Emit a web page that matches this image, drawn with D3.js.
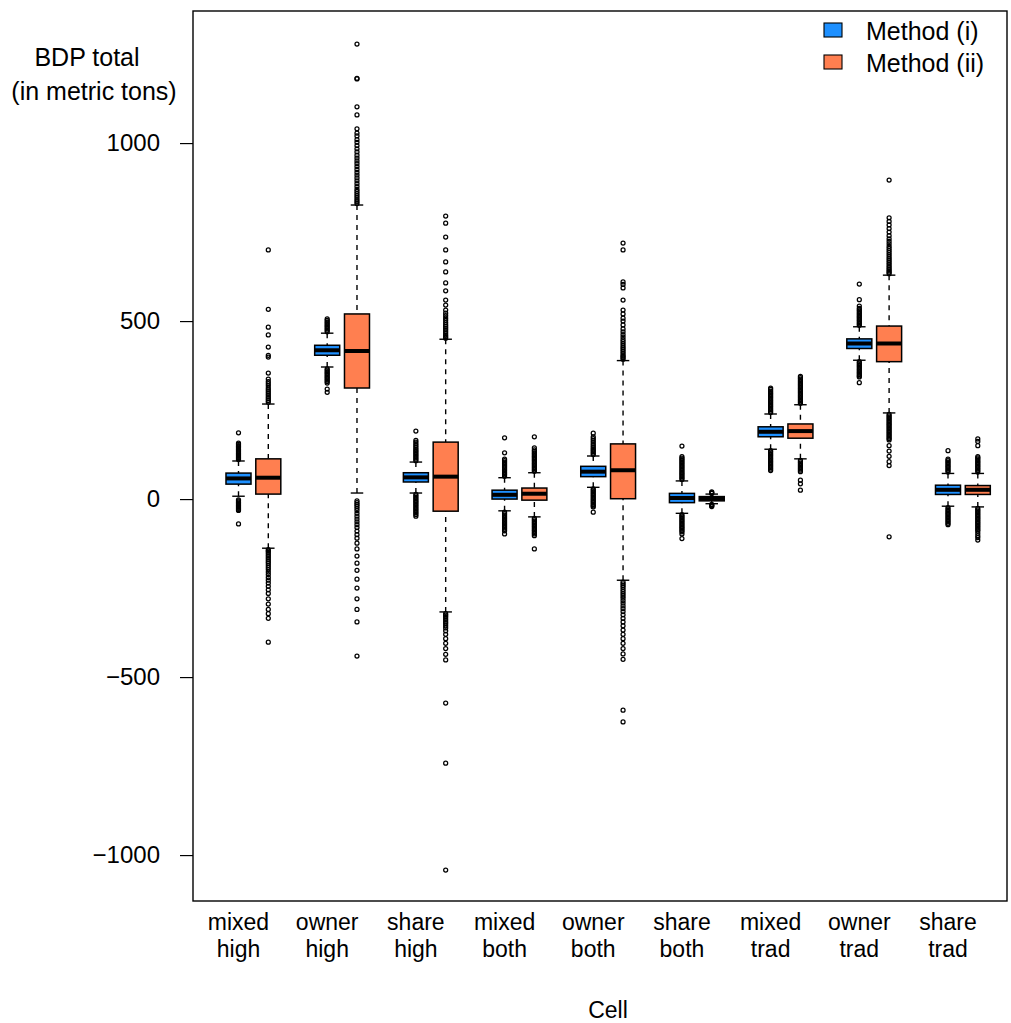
<!DOCTYPE html>
<html>
<head>
<meta charset="utf-8">
<script src="https://cdn.jsdelivr.net/npm/d3@7"></script>
<style>
  body { margin: 0; background: #fff; }
  svg text { font-family: "Liberation Sans", Arial, Helvetica, sans-serif; fill: #000; }
</style>
</head>
<body>
<svg id="chart" width="1011" height="1023"></svg>
<script>
// cell names (two lines each)
var cellType  = ["mixed", "owner", "share", "mixed", "owner", "share", "mixed", "owner", "share"];
var cellLevel = ["high", "high", "high", "both", "both", "both", "trad", "trad", "trad"];
var methods = ["Method (i)", "Method (ii)"];
var methodColors = ["#1E90FF", "#FF7F50"];
var yTicks = [-1000, -500, 0, 500, 1000];

// Method (i) box stats
var iQ1  = [42, 404, 48, 0, 63, -10, 175, 423, 13];
var iMed = [58, 418, 61, 12, 77, 3, 189, 437, 26];
var iQ3  = [73, 432, 74, 25, 92, 16, 203, 450, 39];
var iLo  = [8, 371, 17, -33, 33, -40, 140, 390, -20];
var iHi  = [107, 466, 104, 60, 121, 51, 239, 484, 72];
var iOut = [
  [111,114,117,120,123,126,129,132,135,138,141,144,147,150,154,157,186,
   -2,-5,-8,-11,-14,-17,-20,-23,-26,-29,-32,-70],
  [470,474,478,482,486,490,494,498,502,506,
   366,362,358,354,350,346,342,338,334,330,326,309,300],
  [108,112,116,120,124,128,132,136,140,145,150,155,160,165,191,
   13,9,5,1,-3,-7,-11,-15,-19,-23,-27,-31,-35,-39,-43,-48],
  [64,68,72,76,80,84,88,92,96,100,104,108,112,130,172,
   -37,-41,-45,-49,-53,-57,-61,-65,-69,-73,-77,-81,-85,-89,-98],
  [125,129,133,137,141,145,150,155,160,165,170,175,185,
   29,25,21,17,13,9,5,1,-3,-7,-11,-15,-19,-22,-37],
  [55,59,63,67,71,75,79,83,87,91,95,99,103,107,111,115,119,149,
   -44,-48,-52,-56,-60,-64,-68,-72,-76,-80,-84,-88,-92,-98,-111],
  [243,247,251,255,259,263,267,271,275,279,283,287,291,295,299,303,308,312,
   136,132,128,124,120,116,112,108,104,100,96,92,88,84,80],
  [488,492,496,500,504,508,512,516,520,524,528,532,536,542,560,604,
   386,382,378,374,370,366,362,358,354,350,346,343,327],
  [76,80,84,88,92,96,100,104,108,112,136,
   -24,-28,-32,-36,-40,-44,-48,-52,-56,-60,-64,-68,-72]
];

// Method (ii) box stats
var iiQ1  = [14, 312, -34, -3, 1, -5, 171, 386, 13];
var iiMed = [60, 416, 63, 15, 81, 1, 191, 437, 26];
var iiQ3  = [113, 520, 160, 31, 155, 7, 211, 486, 38];
var iiLo  = [-138, 17, -317, -50, -228, -13, 113, 242, -22];
var iiHi  = [267, 826, 449, 74, 389, 14, 265, 629, 72];
var iiOut = [
  [272,277,282,287,292,297,302,307,312,318,324,330,337,354,399,404,427,461,483,533,700,
   -142,-146,-150,-155,-160,-165,-170,-175,-180,-186,-192,-198,-205,-212,-220,-228,-236,-245,-255,-265,-280,-295,-310,-322,-335,-402],
  [830,835,840,846,852,858,864,870,878,886,894,902,910,918,926,934,942,950,958,966,975,984,993,1002,1010,1020,1028,1040,1079,1102,1180,1182,1278,
   -5,-10,-15,-20,-26,-32,-40,-48,-56,-64,-72,-80,-90,-100,-110,-124,-140,-160,-180,-200,-225,-250,-280,-310,-345,-441],
  [452,456,460,465,470,475,480,485,490,496,502,508,515,522,531,545,559,585,607,638,666,700,736,775,795,
   -322,-326,-330,-335,-340,-345,-350,-356,-362,-370,-380,-392,-405,-420,-436,-452,-573,-742,-1042],
  [78,82,86,90,94,98,102,106,110,114,118,122,126,130,134,138,144,175,
   -54,-58,-62,-66,-70,-74,-78,-82,-86,-90,-94,-98,-103,-140],
  [393,397,401,405,410,415,420,425,430,436,442,448,455,462,470,478,489,500,508,520,531,559,593,603,610,700,719,
   -233,-238,-243,-248,-254,-260,-266,-272,-278,-285,-292,-300,-308,-316,-325,-335,-345,-356,-368,-380,-392,-405,-420,-435,-450,-593,-626],
  [16,18,20,-15,-17,-19,-21],
  [269,273,277,281,285,289,293,297,301,305,309,313,317,321,325,329,333,337,341,345,
   109,105,101,97,93,89,85,81,77,53,43,25],
  [633,637,641,645,650,655,660,665,670,675,680,686,692,698,704,710,717,724,731,740,750,760,770,780,790,896,
   238,234,230,226,222,218,214,210,206,202,198,194,190,186,182,178,174,170,166,150,135,120,105,94,-106],
  [76,80,84,88,92,96,100,104,108,112,116,119,150,162,169,
   -26,-30,-34,-38,-42,-46,-50,-54,-58,-62,-66,-70,-74,-78,-82,-86,-90,-96,-103,-108,-115]
];

var svg = d3.select("#chart");
var fontSize = 23;
var bigFont = 25;

var plotL = 193, plotR = 1007, plotT = 11, plotB = 901;

var y = d3.scaleLinear().domain([-1129, 1371]).range([plotB, plotT]);
var x = d3.scaleLinear().domain([1, 9]).range([238.5, 948]);
var offset = 0.336;   // method (ii) sits to the right of method (i)
var halfW = 0.141;    // half box width, in x units

function boxRows(q1, med, q3, lo, hi, out, m) {
  return cellType.map(function(c, i) {
    return {cell: i, m: m, q1: q1[i], med: med[i], q3: q3[i], lo: lo[i], hi: hi[i], out: out[i]};
  });
}
var boxes = boxRows(iQ1, iMed, iQ3, iLo, iHi, iOut, 0)
  .concat(boxRows(iiQ1, iiMed, iiQ3, iiLo, iiHi, iiOut, 1));

function cx(d) { return x(d.cell + 1 + d.m * offset); }
function bw() { return x(1 + halfW) - x(1 - halfW); }

var g = svg.append("g");

var bx = g.selectAll("g.box").data(boxes).enter().append("g").attr("class", "box");

// whiskers
bx.append("line")
  .attr("x1", cx).attr("x2", cx)
  .attr("y1", function(d) { return y(d.hi); })
  .attr("y2", function(d) { return y(d.q3); })
  .attr("stroke", "#000").attr("stroke-width", 1.4).attr("stroke-dasharray", "5,5");
bx.append("line")
  .attr("x1", cx).attr("x2", cx)
  .attr("y1", function(d) { return y(d.lo); })
  .attr("y2", function(d) { return y(d.q1); })
  .attr("stroke", "#000").attr("stroke-width", 1.4).attr("stroke-dasharray", "5,5");

// staples
[["hi"], ["lo"]].forEach(function(k) {
  bx.append("line")
    .attr("x1", function(d) { return cx(d) - bw() / 4; })
    .attr("x2", function(d) { return cx(d) + bw() / 4; })
    .attr("y1", function(d) { return y(d[k[0]]); })
    .attr("y2", function(d) { return y(d[k[0]]); })
    .attr("stroke", "#000").attr("stroke-width", 1.4);
});

// boxes
bx.append("rect")
  .attr("x", function(d) { return cx(d) - bw() / 2; })
  .attr("width", bw())
  .attr("y", function(d) { return y(d.q3); })
  .attr("height", function(d) { return y(d.q1) - y(d.q3); })
  .attr("fill", function(d) { return methodColors[d.m]; })
  .attr("stroke", "#000").attr("stroke-width", 1.5);

// medians
bx.append("line")
  .attr("x1", function(d) { return cx(d) - bw() / 2; })
  .attr("x2", function(d) { return cx(d) + bw() / 2; })
  .attr("y1", function(d) { return y(d.med); })
  .attr("y2", function(d) { return y(d.med); })
  .attr("stroke", "#000").attr("stroke-width", 4);

// outliers
bx.each(function(d) {
  d3.select(this).selectAll("circle").data(d.out).enter().append("circle")
    .attr("cx", cx(d))
    .attr("cy", function(v) { return y(v); })
    .attr("r", 2)
    .attr("fill", "none")
    .attr("stroke", "#000").attr("stroke-width", 1.25);
});

// frame
svg.append("rect")
  .attr("x", plotL).attr("y", plotT)
  .attr("width", plotR - plotL).attr("height", plotB - plotT)
  .attr("fill", "none").attr("stroke", "#000").attr("stroke-width", 1.4);

// y axis
var yAxis = d3.axisLeft(y).tickValues(yTicks).tickSize(13).tickPadding(20)
  .tickFormat(d3.format("d"));
var ya = svg.append("g").attr("transform", "translate(" + plotL + ",0)").call(yAxis);
ya.select(".domain").remove();
ya.selectAll("line").attr("stroke", "#000").attr("stroke-width", 1.2);
ya.selectAll("text").attr("font-size", 24).attr("font-family", null);

// x labels
var xl = svg.append("g").selectAll("text").data(cellType).enter().append("text")
  .attr("text-anchor", "middle")
  .attr("font-size", fontSize)
  .attr("x", function(d, i) { return x(i + 1); });
xl.append("tspan").attr("y", 930).text(function(d) { return d; })
  .attr("x", function(d, i) { return x(i + 1); });
xl.append("tspan").attr("y", 957).text(function(d, i) { return cellLevel[i]; })
  .attr("x", function(d, i) { return x(i + 1); });

// axis titles
svg.append("text").attr("x", 608).attr("y", 1018).attr("text-anchor", "middle")
  .attr("font-size", fontSize).text("Cell");
svg.append("text").attr("x", 87).attr("y", 66).attr("text-anchor", "middle")
  .attr("font-size", bigFont).text("BDP total");
svg.append("text").attr("x", 94).attr("y", 100).attr("text-anchor", "middle")
  .attr("font-size", bigFont).text("(in metric tons)");

// legend
var lg = svg.append("g").selectAll("g").data(methods).enter().append("g")
  .attr("transform", function(d, i) { return "translate(0," + (i * 32) + ")"; });
lg.append("rect").attr("x", 824).attr("y", 23).attr("width", 18).attr("height", 14)
  .attr("fill", function(d, i) { return methodColors[i]; })
  .attr("stroke", "#000").attr("stroke-width", 1.1);
lg.append("text").attr("x", 866).attr("y", 40).attr("font-size", bigFont)
  .text(function(d) { return d; });
</script>
</body>
</html>
